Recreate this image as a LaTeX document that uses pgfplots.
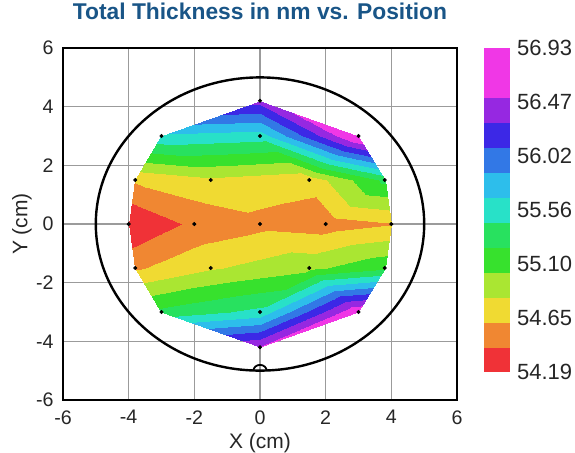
\documentclass[border=0pt]{standalone}
\usepackage{fontspec}
\setmainfont{Liberation Sans}
\usepackage{pgfplots}
\pgfplotsset{compat=1.18}
\definecolor{titleblue}{RGB}{25,85,135}
\definecolor{gridgray}{RGB}{155,155,155}
\pgfplotsset{
  /pgf/number format/assume math mode=true,
  colormap={wafer}{
    rgb255=(240,50,55) rgb255=(240,135,50) rgb255=(240,218,50)
    rgb255=(170,230,50) rgb255=(55,225,45) rgb255=(40,225,95)
    rgb255=(40,225,200) rgb255=(45,190,235) rgb255=(50,120,230)
    rgb255=(60,40,230) rgb255=(150,40,225) rgb255=(240,55,230)
    rgb255=(240,55,230)},
}

\begin{document}
\begin{tikzpicture}
\begin{axis}[
    name=main,
    scale only axis, width=197pt, height=176pt,
    xmin=-6, xmax=6, ymin=-6, ymax=6,
    xtick={-6,-4,...,6}, ytick={-6,-4,...,6},
    grid=major, major grid style={gridgray, line width=0.55pt},
    major tick length=0pt,
    axis line style={line width=0.8pt},
    tick label style={font=\fontsize{9.8}{10}\selectfont, text=black!85},
    xticklabel style={yshift=-1.7pt},
    yticklabel style={xshift=-1.2pt},
    xlabel={X (cm)}, ylabel={Y (cm)},
    label style={font=\fontsize{10.5}{12}\selectfont, text=black!85},
    xlabel style={at={(axis description cs:0.5,-0.122)}, anchor=center},
    ylabel style={at={(axis description cs:-0.104,0.5)}, anchor=center},
    title={Total Thickness in nm vs. Position},
    title style={at={(axis description cs:0.5,1.071)}, anchor=center,
        font=\fontsize{11.4}{13}\selectfont\bfseries, text=titleblue},
    colormap name=wafer, colormap access=piecewise constant,
    point meta min=54.19, point meta max=56.93,
    colorbar,
    colorbar style={
        width=13pt, height=162pt,
        at={(parent axis.north east)}, anchor=north west, xshift=5pt,
        ytick={54.19,54.6467,55.1033,55.56,56.0167,56.4733,56.93},
        yticklabels={54.19,54.65,55.10,55.56,56.02,56.47,56.93},
        yticklabel style={font=\fontsize{11}{12}\selectfont, text=black!85},
        axis line style={draw=none},
        major tick length=0pt,
    },
    clip=false,
]
% thickness (nm) at the measurement sites, drawn as triangles
\addplot[patch, patch type=triangle, shader=interp, point meta=explicit] coordinates {
    (0,4.2)[56.38] (-3,3)[55.62] (0,3)[55.55]
    (0,4.2)[56.38] (0,3)[55.55] (3,3)[56.78]
    (-3,3)[55.62] (-3.8,1.5)[54.64] (-1.5,1.5)[54.78]
    (-3,3)[55.62] (-1.5,1.5)[54.78] (0,3)[55.55]
    (0,3)[55.55] (-1.5,1.5)[54.78] (1.5,1.5)[54.68]
    (0,3)[55.55] (1.5,1.5)[54.68] (3,3)[56.78]
    (3,3)[56.78] (1.5,1.5)[54.68] (3.8,1.5)[55.30]
    (-3.8,1.5)[54.64] (-4,0)[54.19] (-2,0)[54.45]
    (-3.8,1.5)[54.64] (-2,0)[54.45] (-1.5,1.5)[54.78]
    (-1.5,1.5)[54.78] (-2,0)[54.45] (0,0)[54.55]
    (-1.5,1.5)[54.78] (0,0)[54.55] (1.5,1.5)[54.68]
    (1.5,1.5)[54.68] (0,0)[54.55] (2,0)[54.50]
    (1.5,1.5)[54.68] (2,0)[54.50] (3.8,1.5)[55.30]
    (3.8,1.5)[55.30] (2,0)[54.50] (4,0)[54.60]
    (-4,0)[54.19] (-3.8,-1.5)[54.58] (-2,0)[54.45]
    (-2,0)[54.45] (-3.8,-1.5)[54.58] (-1.5,-1.5)[54.80]
    (-2,0)[54.45] (-1.5,-1.5)[54.80] (0,0)[54.55]
    (0,0)[54.55] (-1.5,-1.5)[54.80] (1.5,-1.5)[54.98]
    (0,0)[54.55] (1.5,-1.5)[54.98] (2,0)[54.50]
    (2,0)[54.50] (1.5,-1.5)[54.98] (3.8,-1.5)[55.20]
    (2,0)[54.50] (3.8,-1.5)[55.20] (4,0)[54.60]
    (-3.8,-1.5)[54.58] (-3,-3)[55.30] (-1.5,-1.5)[54.80]
    (-1.5,-1.5)[54.80] (-3,-3)[55.30] (0,-3)[55.52]
    (-1.5,-1.5)[54.80] (0,-3)[55.52] (1.5,-1.5)[54.98]
    (1.5,-1.5)[54.98] (0,-3)[55.52] (3,-3)[56.72]
    (1.5,-1.5)[54.98] (3,-3)[56.72] (3.8,-1.5)[55.20]
    (-3,-3)[55.30] (0,-4.2)[56.52] (0,-3)[55.52]
    (0,-3)[55.52] (0,-4.2)[56.52] (3,-3)[56.72]
};
% measurement sites
\addplot[only marks, mark=*, mark size=0.8pt, black] coordinates {
    (0,4.2) (-3,3) (0,3) (3,3)
    (-3.8,1.5) (-1.5,1.5) (1.5,1.5) (3.8,1.5)
    (-4,0) (-2,0) (0,0) (2,0) (4,0)
    (-3.8,-1.5) (-1.5,-1.5) (1.5,-1.5) (3.8,-1.5)
    (-3,-3) (0,-3) (3,-3) (0,-4.2)
};
% wafer outline and notch
\draw[line width=1.2pt] (axis cs:0,0) ellipse [x radius=82.1pt, y radius=73.3pt];
\draw[line width=0.9pt] (axis cs:-0.2,-5) arc [start angle=180, end angle=0, x radius=3.3pt, y radius=2.9pt];
\end{axis}
\pgfresetboundingbox
\path ([shift={(-31.5pt,-26.2pt)}]main.south west) rectangle ([shift={(59pt,24pt)}]main.north east);
\end{tikzpicture}
\end{document}
